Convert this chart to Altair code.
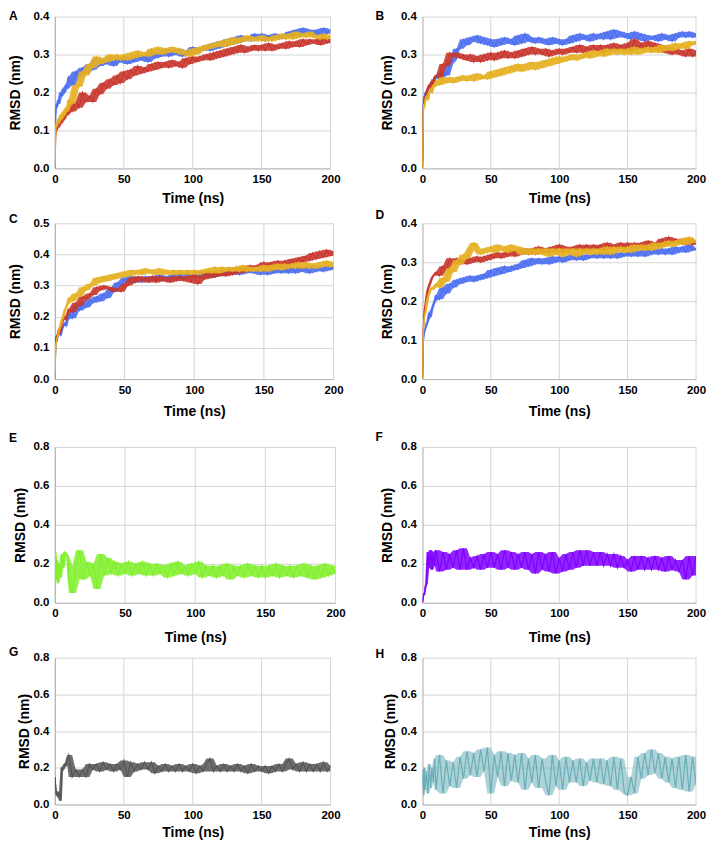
import altair as alt
import pandas as pd

# time axis (ns)
T = [0, 0.5, 1, 1.5, 2, 3, 4, 5, 6, 7, 8, 9,
     10, 12.5, 15, 17.5, 20, 22.5, 25, 27.5,
     30, 32.5, 35, 37.5, 40, 42.5, 45, 47.5,
     50, 52.5, 55, 57.5, 60, 62.5, 65, 67.5,
     70, 72.5, 75, 77.5, 80, 82.5, 85, 87.5,
     90, 92.5, 95, 97.5, 100, 102.5, 105, 107.5,
     110, 112.5, 115, 117.5, 120, 122.5, 125, 127.5,
     130, 132.5, 135, 137.5, 140, 142.5, 145, 147.5,
     150, 152.5, 155, 157.5, 160, 162.5, 165, 167.5,
     170, 172.5, 175, 177.5, 180, 182.5, 185, 187.5,
     190, 192.5, 195, 197.5, 200]

# Panel A
A_BLUE = [0.00, 0.14, 0.17, 0.16, 0.18, 0.17, 0.20, 0.19, 0.21, 0.20, 0.22, 0.21,
          0.24, 0.22, 0.255, 0.24, 0.265, 0.25, 0.275, 0.26,
          0.29, 0.27, 0.285, 0.275, 0.295, 0.27, 0.29, 0.28,
          0.295, 0.275, 0.29, 0.28, 0.30, 0.285, 0.295, 0.28,
          0.31, 0.29, 0.305, 0.295, 0.315, 0.295, 0.31, 0.30,
          0.315, 0.295, 0.31, 0.30, 0.32, 0.305, 0.315, 0.31,
          0.325, 0.31, 0.33, 0.315, 0.335, 0.32, 0.34, 0.325,
          0.345, 0.33, 0.35, 0.335, 0.345, 0.335, 0.355, 0.34,
          0.355, 0.335, 0.35, 0.34, 0.355, 0.34, 0.35, 0.345,
          0.36, 0.345, 0.365, 0.35, 0.37, 0.355, 0.365, 0.35,
          0.365, 0.35, 0.37, 0.355, 0.365]
A_RED = [0.00, 0.09, 0.11, 0.10, 0.12, 0.11, 0.13, 0.12, 0.14, 0.13, 0.15, 0.14,
         0.165, 0.15, 0.175, 0.16, 0.20, 0.175, 0.19, 0.175,
         0.21, 0.195, 0.225, 0.21, 0.235, 0.22, 0.245, 0.225,
         0.255, 0.235, 0.26, 0.245, 0.27, 0.25, 0.265, 0.255,
         0.275, 0.26, 0.28, 0.265, 0.28, 0.265, 0.285, 0.27,
         0.28, 0.265, 0.29, 0.275, 0.295, 0.28, 0.295, 0.285,
         0.30, 0.285, 0.305, 0.29, 0.31, 0.295, 0.315, 0.30,
         0.32, 0.305, 0.325, 0.305, 0.32, 0.31, 0.325, 0.31,
         0.325, 0.31, 0.33, 0.31, 0.325, 0.315, 0.33, 0.315,
         0.335, 0.32, 0.335, 0.32, 0.34, 0.325, 0.34, 0.33,
         0.34, 0.325, 0.345, 0.33, 0.34]
A_GOLD = [0.00, 0.10, 0.12, 0.11, 0.13, 0.12, 0.14, 0.13, 0.15, 0.14, 0.16, 0.15,
          0.18, 0.17, 0.22, 0.215, 0.255, 0.245, 0.275, 0.265,
          0.295, 0.275, 0.29, 0.28, 0.30, 0.285, 0.30, 0.285,
          0.30, 0.285, 0.305, 0.29, 0.31, 0.295, 0.305, 0.295,
          0.315, 0.30, 0.32, 0.30, 0.315, 0.305, 0.32, 0.305,
          0.315, 0.30, 0.31, 0.295, 0.315, 0.30, 0.32, 0.31,
          0.325, 0.315, 0.33, 0.32, 0.335, 0.32, 0.34, 0.325,
          0.345, 0.33, 0.345, 0.335, 0.35, 0.335, 0.345, 0.335,
          0.35, 0.335, 0.345, 0.335, 0.35, 0.34, 0.355, 0.34,
          0.355, 0.34, 0.36, 0.345, 0.355, 0.345, 0.36, 0.345,
          0.35, 0.34, 0.355, 0.34, 0.35]

# Panel B
B_BLUE = [0.00, 0.16, 0.19, 0.18, 0.20, 0.19, 0.21, 0.22, 0.21, 0.23, 0.22, 0.24,
          0.245, 0.235, 0.255, 0.245, 0.275, 0.285, 0.315, 0.315,
          0.34, 0.325, 0.345, 0.335, 0.35, 0.33, 0.345, 0.325,
          0.34, 0.32, 0.34, 0.325, 0.345, 0.33, 0.34, 0.325,
          0.35, 0.33, 0.355, 0.335, 0.345, 0.33, 0.345, 0.33,
          0.34, 0.325, 0.345, 0.33, 0.34, 0.325, 0.34, 0.33,
          0.35, 0.335, 0.355, 0.34, 0.35, 0.335, 0.355, 0.34,
          0.355, 0.34, 0.36, 0.34, 0.365, 0.345, 0.36, 0.345,
          0.355, 0.34, 0.36, 0.34, 0.355, 0.335, 0.35, 0.34,
          0.35, 0.335, 0.355, 0.34, 0.35, 0.335, 0.355, 0.345,
          0.36, 0.345, 0.36, 0.345, 0.355]
B_RED = [0.00, 0.15, 0.18, 0.17, 0.19, 0.20, 0.21, 0.22, 0.21, 0.23, 0.22, 0.24,
         0.245, 0.24, 0.275, 0.27, 0.305, 0.295, 0.305, 0.29,
         0.30, 0.285, 0.30, 0.28, 0.295, 0.28, 0.30, 0.285,
         0.305, 0.285, 0.305, 0.29, 0.31, 0.29, 0.305, 0.29,
         0.31, 0.295, 0.315, 0.30, 0.32, 0.30, 0.315, 0.30,
         0.315, 0.295, 0.31, 0.30, 0.315, 0.30, 0.315, 0.305,
         0.32, 0.305, 0.325, 0.305, 0.32, 0.31, 0.325, 0.31,
         0.325, 0.305, 0.325, 0.31, 0.33, 0.31, 0.325, 0.31,
         0.33, 0.31, 0.34, 0.315, 0.33, 0.315, 0.335, 0.315,
         0.33, 0.31, 0.325, 0.305, 0.32, 0.30, 0.315, 0.30,
         0.31, 0.295, 0.315, 0.295, 0.31]
B_GOLD = [0.00, 0.14, 0.17, 0.16, 0.18, 0.19, 0.18, 0.20, 0.21, 0.20, 0.22, 0.215,
          0.23, 0.22, 0.24, 0.225, 0.24, 0.225, 0.24, 0.23,
          0.245, 0.23, 0.245, 0.23, 0.25, 0.235, 0.245, 0.235,
          0.255, 0.24, 0.26, 0.245, 0.265, 0.25, 0.27, 0.255,
          0.275, 0.255, 0.275, 0.26, 0.28, 0.26, 0.28, 0.265,
          0.285, 0.27, 0.29, 0.275, 0.295, 0.28, 0.295, 0.285,
          0.30, 0.285, 0.30, 0.29, 0.305, 0.29, 0.31, 0.295,
          0.31, 0.295, 0.315, 0.30, 0.315, 0.30, 0.315, 0.30,
          0.315, 0.30, 0.32, 0.30, 0.315, 0.305, 0.32, 0.305,
          0.32, 0.305, 0.325, 0.31, 0.325, 0.31, 0.33, 0.315,
          0.33, 0.315, 0.335, 0.325, 0.335]

# Panel C
C_BLUE = [0.00, 0.11, 0.13, 0.12, 0.14, 0.15, 0.14, 0.16, 0.17, 0.18, 0.17, 0.19,
          0.21, 0.195, 0.235, 0.22, 0.245, 0.23, 0.255, 0.245,
          0.265, 0.25, 0.275, 0.26, 0.29, 0.28, 0.31, 0.30,
          0.325, 0.31, 0.33, 0.31, 0.325, 0.31, 0.33, 0.315,
          0.33, 0.315, 0.335, 0.315, 0.33, 0.315, 0.335, 0.32,
          0.34, 0.32, 0.34, 0.325, 0.34, 0.325, 0.345, 0.33,
          0.345, 0.325, 0.345, 0.33, 0.35, 0.335, 0.35, 0.335,
          0.355, 0.335, 0.355, 0.34, 0.355, 0.34, 0.35, 0.335,
          0.355, 0.335, 0.355, 0.34, 0.355, 0.34, 0.36, 0.34,
          0.36, 0.34, 0.36, 0.345, 0.36, 0.34, 0.365, 0.345,
          0.36, 0.345, 0.365, 0.35, 0.36]
C_RED = [0.00, 0.12, 0.14, 0.13, 0.15, 0.16, 0.15, 0.18, 0.19, 0.20, 0.19, 0.21,
         0.225, 0.215, 0.245, 0.235, 0.265, 0.255, 0.275, 0.27,
         0.295, 0.285, 0.30, 0.29, 0.295, 0.28, 0.29, 0.28,
         0.305, 0.30, 0.325, 0.31, 0.33, 0.315, 0.325, 0.31,
         0.33, 0.31, 0.33, 0.315, 0.325, 0.31, 0.33, 0.315,
         0.33, 0.315, 0.33, 0.31, 0.335, 0.305, 0.33, 0.32,
         0.345, 0.325, 0.345, 0.33, 0.345, 0.33, 0.35, 0.335,
         0.36, 0.34, 0.36, 0.345, 0.365, 0.35, 0.365, 0.35,
         0.375, 0.355, 0.375, 0.36, 0.38, 0.36, 0.38, 0.365,
         0.385, 0.37, 0.39, 0.375, 0.395, 0.38, 0.405, 0.385,
         0.41, 0.39, 0.415, 0.395, 0.41]
C_GOLD = [0.00, 0.10, 0.12, 0.13, 0.14, 0.16, 0.17, 0.19, 0.20, 0.22, 0.23, 0.24,
          0.26, 0.25, 0.275, 0.265, 0.295, 0.285, 0.305, 0.30,
          0.325, 0.31, 0.33, 0.315, 0.335, 0.32, 0.34, 0.325,
          0.345, 0.33, 0.35, 0.335, 0.35, 0.335, 0.355, 0.34,
          0.35, 0.335, 0.355, 0.335, 0.35, 0.335, 0.35, 0.335,
          0.35, 0.335, 0.35, 0.335, 0.35, 0.335, 0.35, 0.34,
          0.355, 0.34, 0.36, 0.34, 0.36, 0.345, 0.36, 0.345,
          0.36, 0.345, 0.365, 0.345, 0.36, 0.345, 0.36, 0.345,
          0.365, 0.345, 0.365, 0.35, 0.37, 0.35, 0.37, 0.355,
          0.37, 0.355, 0.375, 0.355, 0.375, 0.355, 0.37, 0.355,
          0.375, 0.36, 0.38, 0.36, 0.375]

# Panel D
D_BLUE = [0.00, 0.09, 0.11, 0.12, 0.13, 0.14, 0.15, 0.17, 0.16, 0.18, 0.19, 0.20,
          0.215, 0.205, 0.235, 0.22, 0.245, 0.235, 0.255, 0.245,
          0.26, 0.25, 0.265, 0.25, 0.265, 0.255, 0.27, 0.26,
          0.28, 0.265, 0.285, 0.27, 0.29, 0.275, 0.29, 0.28,
          0.295, 0.285, 0.305, 0.29, 0.31, 0.295, 0.31, 0.295,
          0.31, 0.295, 0.315, 0.30, 0.315, 0.30, 0.315, 0.305,
          0.32, 0.305, 0.32, 0.305, 0.32, 0.31, 0.32, 0.31,
          0.325, 0.31, 0.325, 0.31, 0.325, 0.31, 0.325, 0.315,
          0.325, 0.315, 0.33, 0.315, 0.33, 0.315, 0.335, 0.32,
          0.335, 0.32, 0.335, 0.32, 0.335, 0.32, 0.34, 0.325,
          0.34, 0.325, 0.345, 0.33, 0.335]
D_RED = [0.00, 0.12, 0.15, 0.18, 0.19, 0.21, 0.23, 0.24, 0.25, 0.26, 0.265, 0.27,
         0.275, 0.265, 0.29, 0.28, 0.31, 0.295, 0.31, 0.295,
         0.305, 0.295, 0.31, 0.30, 0.315, 0.30, 0.315, 0.305,
         0.32, 0.31, 0.325, 0.31, 0.325, 0.315, 0.33, 0.315,
         0.33, 0.32, 0.335, 0.32, 0.335, 0.32, 0.34, 0.325,
         0.335, 0.325, 0.34, 0.325, 0.345, 0.325, 0.34, 0.33,
         0.34, 0.33, 0.345, 0.33, 0.345, 0.33, 0.345, 0.335,
         0.345, 0.33, 0.35, 0.335, 0.345, 0.335, 0.35, 0.335,
         0.35, 0.335, 0.35, 0.335, 0.35, 0.335, 0.355, 0.34,
         0.35, 0.34, 0.36, 0.345, 0.365, 0.35, 0.36, 0.35,
         0.36, 0.345, 0.36, 0.345, 0.355]
D_GOLD = [0.00, 0.11, 0.14, 0.16, 0.17, 0.19, 0.21, 0.22, 0.23, 0.235, 0.23, 0.24,
          0.245, 0.235, 0.26, 0.25, 0.285, 0.275, 0.305, 0.295,
          0.32, 0.31, 0.335, 0.35, 0.33, 0.32, 0.335, 0.325,
          0.34, 0.325, 0.345, 0.33, 0.34, 0.325, 0.345, 0.33,
          0.34, 0.32, 0.335, 0.32, 0.335, 0.32, 0.335, 0.32,
          0.335, 0.315, 0.335, 0.32, 0.335, 0.315, 0.335, 0.32,
          0.335, 0.315, 0.335, 0.32, 0.335, 0.32, 0.335, 0.32,
          0.335, 0.32, 0.34, 0.32, 0.34, 0.325, 0.34, 0.325,
          0.34, 0.325, 0.345, 0.33, 0.345, 0.33, 0.345, 0.33,
          0.35, 0.335, 0.35, 0.34, 0.355, 0.34, 0.355, 0.345,
          0.36, 0.345, 0.365, 0.35, 0.355]

# Panels E-H (single trajectories)
E_GREEN = [0.00, 0.26, 0.12, 0.22, 0.10, 0.20, 0.13, 0.25, 0.18, 0.26, 0.25, 0.24,
           0.12, 0.05, 0.19, 0.27, 0.12, 0.21, 0.14, 0.20,
           0.07, 0.25, 0.14, 0.23, 0.15, 0.21, 0.14, 0.20,
           0.15, 0.21, 0.14, 0.20, 0.15, 0.21, 0.14, 0.20,
           0.14, 0.20, 0.15, 0.19, 0.13, 0.20, 0.14, 0.21,
           0.15, 0.19, 0.14, 0.20, 0.15, 0.21, 0.13, 0.19,
           0.14, 0.19, 0.13, 0.19, 0.14, 0.20, 0.12, 0.19,
           0.14, 0.19, 0.13, 0.20, 0.14, 0.19, 0.13, 0.19,
           0.13, 0.19, 0.14, 0.20, 0.13, 0.19, 0.14, 0.19,
           0.13, 0.19, 0.14, 0.20, 0.13, 0.19, 0.12, 0.19,
           0.13, 0.20, 0.14, 0.19, 0.15]
F_PURPLE = [0.00, 0.02, 0.05, 0.04, 0.08, 0.10, 0.26, 0.18, 0.27, 0.17, 0.26, 0.19,
            0.27, 0.16, 0.26, 0.17, 0.25, 0.18, 0.27, 0.17,
            0.28, 0.17, 0.23, 0.18, 0.24, 0.17, 0.25, 0.18,
            0.26, 0.18, 0.25, 0.17, 0.27, 0.18, 0.26, 0.17,
            0.25, 0.18, 0.26, 0.17, 0.25, 0.15, 0.26, 0.17,
            0.25, 0.16, 0.26, 0.15, 0.23, 0.16, 0.25, 0.17,
            0.26, 0.18, 0.27, 0.19, 0.27, 0.19, 0.26, 0.19,
            0.26, 0.19, 0.25, 0.19, 0.25, 0.18, 0.24, 0.18,
            0.22, 0.16, 0.24, 0.17, 0.24, 0.17, 0.23, 0.17,
            0.24, 0.17, 0.23, 0.16, 0.24, 0.17, 0.22, 0.16,
            0.22, 0.12, 0.24, 0.14, 0.24]
G_GRAY = [0.15, 0.10, 0.05, 0.07, 0.04, 0.07, 0.02, 0.20, 0.19, 0.22, 0.21, 0.25,
          0.27, 0.15, 0.19, 0.15, 0.19, 0.15, 0.22, 0.19,
          0.22, 0.18, 0.23, 0.19, 0.22, 0.18, 0.22, 0.19,
          0.24, 0.15, 0.23, 0.18, 0.22, 0.19, 0.23, 0.19,
          0.23, 0.17, 0.21, 0.18, 0.22, 0.18, 0.21, 0.18,
          0.22, 0.18, 0.21, 0.18, 0.22, 0.17, 0.21, 0.18,
          0.22, 0.25, 0.18, 0.21, 0.18, 0.22, 0.18, 0.21,
          0.18, 0.22, 0.18, 0.21, 0.17, 0.22, 0.18, 0.21,
          0.18, 0.21, 0.17, 0.21, 0.18, 0.22, 0.18, 0.22,
          0.25, 0.19, 0.22, 0.18, 0.23, 0.18, 0.22, 0.18,
          0.22, 0.18, 0.23, 0.18, 0.21]
H_TEAL = [0.10, 0.19, 0.05, 0.20, 0.08, 0.18, 0.06, 0.22, 0.09, 0.20, 0.12, 0.25,
          0.08, 0.27, 0.06, 0.24, 0.10, 0.23, 0.09, 0.26,
          0.14, 0.29, 0.16, 0.28, 0.15, 0.30, 0.18, 0.31,
          0.06, 0.27, 0.15, 0.29, 0.10, 0.28, 0.13, 0.27,
          0.12, 0.28, 0.08, 0.25, 0.12, 0.27, 0.09, 0.25,
          0.13, 0.05, 0.27, 0.10, 0.24, 0.08, 0.26, 0.12,
          0.24, 0.12, 0.25, 0.10, 0.23, 0.13, 0.25, 0.12,
          0.25, 0.11, 0.24, 0.10, 0.26, 0.08, 0.25, 0.07,
          0.05, 0.15, 0.06, 0.26, 0.14, 0.28, 0.16, 0.30,
          0.17, 0.28, 0.14, 0.26, 0.12, 0.25, 0.09, 0.26,
          0.08, 0.27, 0.07, 0.26, 0.11]

BLUE, RED, GOLD = "#4d6ff0", "#c8372d", "#e6b022"
X_TICKS = [0, 50, 100, 150, 200]
Y_TICKS_04 = [0.0, 0.1, 0.2, 0.3, 0.4]
Y_TICKS_05 = [0.0, 0.1, 0.2, 0.3, 0.4, 0.5]
Y_TICKS_08 = [0.0, 0.2, 0.4, 0.6, 0.8]

FONT = "Liberation Sans"
GRID = "#d6d6d6"


def panel(series, ymax, yticks, width, height, top_pad, letter, lx, ly, ytp, xtp, band_op):
    xs = alt.Scale(domain=[0, 200], nice=False, zero=False)
    ys = alt.Scale(domain=[0, ymax], nice=False, range=[height, top_pad])
    xaxis = alt.Axis(values=X_TICKS, format="d", title="Time (ns)", grid=False,
                     labelFlush=False, labelOverlap=False, labelPadding=5,
                     titlePadding=xtp, domainColor="#b8b8b8")
    yaxis = alt.Axis(values=yticks, format=".1f", title="RMSD (nm)", grid=True,
                     labelOverlap=False, labelPadding=6, titlePadding=ytp,
                     tickCount=len(yticks), domainColor="#9a9a9a")
    grid = alt.Chart(pd.DataFrame({"t": X_TICKS})).mark_rule(
        color=GRID, strokeWidth=1).encode(
        x=alt.X("t:Q", scale=xs, axis=xaxis),
        y=alt.datum(0, scale=ys, axis=yaxis), y2=alt.datum(ymax))
    layers = [grid]
    for vals, col in series:
        df = pd.DataFrame({"t": T, "v": vals})
        base = alt.Chart(df)
        band = base.transform_window(
            lo="min(v)", hi="max(v)", frame=[-1, 1], sort=[alt.SortField("t")]
        ).mark_area(color=col, opacity=band_op, clip=True).encode(
            x=alt.X("t:Q", scale=xs, axis=xaxis),
            y=alt.Y("lo:Q", scale=ys, axis=yaxis), y2="hi:Q")
        line = base.mark_line(color=col, strokeWidth=1.2, clip=True).encode(
            x=alt.X("t:Q", scale=xs, axis=xaxis),
            y=alt.Y("v:Q", scale=ys, axis=yaxis))
        layers += [band, line]
    lab = alt.Chart(pd.DataFrame({"l": [letter]})).mark_text(
        align="left", baseline="middle", fontSize=12, fontWeight="bold",
        font=FONT, color="black").encode(text="l:N", x=alt.value(lx), y=alt.value(ly))
    layers.append(lab)
    return alt.layer(*layers).properties(width=width, height=height)


pA = panel([(A_BLUE, BLUE), (A_RED, RED), (A_GOLD, GOLD)], 0.4, Y_TICKS_04,
           276, 152, 0, "A", -46, -1, 10, 7, 0.9)
pB = panel([(B_BLUE, BLUE), (B_RED, RED), (B_GOLD, GOLD)], 0.4, Y_TICKS_04,
           274, 152, 0, "B", -47, -1, 6, 7, 0.9)
pC = panel([(C_BLUE, BLUE), (C_RED, RED), (C_GOLD, GOLD)], 0.5, Y_TICKS_05,
           279, 156, 0, "C", -46, -4, 10, 9, 0.9)
pD = panel([(D_BLUE, BLUE), (D_RED, RED), (D_GOLD, GOLD)], 0.4, Y_TICKS_04,
           274, 156, 0, "D", -47, -8, 6, 9, 0.9)
pE = panel([(E_GREEN, "#80f02a")], 0.8, Y_TICKS_08,
           281, 169, 13, "E", -46, 4, 5, 11, 0.85)
pF = panel([(F_PURPLE, "#8000ff")], 0.8, Y_TICKS_08,
           274, 169, 13, "F", -47, 3, 6, 11, 0.85)
pG = panel([(G_GRAY, "#555555")], 0.8, Y_TICKS_08,
           276, 147, 0, "G", -46, -6, 1, 5, 0.85)
pH = panel([(H_TEAL, "#6aaeb8")], 0.8, Y_TICKS_08,
           274, 147, 0, "H", -47, -4, 3, 5, 0.55)

chart = alt.concat(
    pA, pB, pC, pD, pE, pF, pG, pH,
    columns=2, bounds="flush", spacing={"row": 55, "column": 87}
).properties(
    padding={"left": 0, "top": 0, "right": 0, "bottom": 0}
).configure_axis(
    labelFont=FONT, titleFont=FONT, labelFontWeight="bold", titleFontWeight="bold",
    labelFontSize=11.5, titleFontSize=14, labelColor="#000000", titleColor="#000000",
    gridColor=GRID, gridWidth=1, ticks=False
).configure_view(stroke="transparent")

chart.save("out.html", embed_options={"renderer": "svg", "actions": False})
